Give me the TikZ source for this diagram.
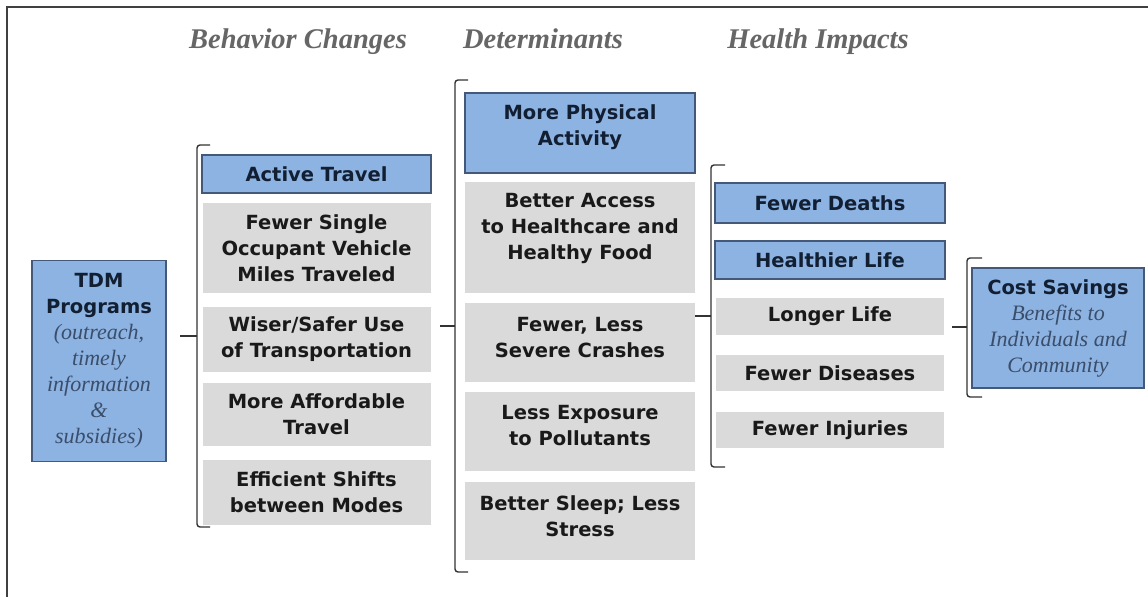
\documentclass[tikz,border=0pt]{standalone}
\usepackage{fontspec}
\newfontfamily\boxfont{DejaVu Sans}
\newfontfamily\serifit{Liberation Serif}
\definecolor{bluefill}{HTML}{8DB3E2}
\definecolor{blueline}{HTML}{44597A}
\definecolor{grayfill}{HTML}{DADADA}
\definecolor{bluetext}{HTML}{121F33}
\definecolor{italtext}{HTML}{3A4D6A}
\definecolor{headgray}{HTML}{666666}
\definecolor{framegray}{HTML}{404040}
\newcommand{\itx}[1]{{\normalfont\serifit\itshape\fontsize{22}{26}\selectfont\color{italtext}#1}}
\begin{document}
\begin{tikzpicture}[x=1pt,y=-1pt,
  bluebox/.style={draw=blueline,line width=1.3pt,fill=bluefill,inner sep=0pt,align=center,
    text=bluetext,font=\boxfont\bfseries\fontsize{19.5}{26}\selectfont},
  graybox/.style={fill=grayfill,inner sep=0pt,align=center,text=black!90,
    font=\boxfont\bfseries\fontsize{19.5}{26}\selectfont},
  txt/.style={inner sep=0pt,align=center,text=black!90,font=\boxfont\bfseries\fontsize{19.5}{26}\selectfont},
  header/.style={inner sep=0pt,anchor=base,text=headgray,font=\serifit\bfseries\itshape\fontsize{28.5}{30}\selectfont},
  brack/.style={draw=black!80,line width=1.4pt,rounded corners=3pt},
  frameline/.style={draw=framegray,line width=1.8pt}
]
\useasboundingbox (0,0) rectangle (1148,597);
\fill[white] (0,0) rectangle (1148,597);
\draw[frameline] (7,597) -- (7,7) -- (1148,7);

% headers
\node[header] (h1) at (298,48) {Behavior Changes};
\node[header] (h2) at (543,48) {Determinants};
\node[header] (h3) at (818,48) {Health Impacts};

% TDM box
\node[bluebox,minimum width=134pt,minimum height=201pt] (tdm) at (99,361)
  {TDM\\Programs\\\itx{(outreach,}\\\itx{timely}\\\itx{information}\\\itx{\&}\\\itx{subsidies)}};

% behavior changes
\node[bluebox,minimum width=229pt,minimum height=38pt] (b1) at (316.5,174) {Active Travel};
\node[graybox,minimum width=228pt,minimum height=90pt] (b2) at (316.5,248) {Fewer Single\\Occupant Vehicle\\Miles Traveled};
\node[graybox,minimum width=228pt,minimum height=65pt] (b3) at (316.5,339.5) {Wiser/Safer Use\\of Transportation};
\node[graybox,minimum width=228pt,minimum height=63pt] (b4) at (316.5,414.5) {More Affordable\\Travel};
\node[graybox,minimum width=228pt,minimum height=65pt] (b5) at (316.5,492.5) {Efficient Shifts\\between Modes};

% determinants
\node[bluebox,minimum width=230pt,minimum height=80pt] (d1) at (580,133) {};
\node[txt,text=bluetext] (d1t) at ([yshift=6pt]d1.center) {More Physical\\Activity};
\node[graybox,minimum width=230pt,minimum height=111pt] (d2) at (580,237.5) {};
\node[txt] (d2t) at ([yshift=9pt]d2.center) {Better Access\\to Healthcare and\\Healthy Food};
\node[graybox,minimum width=230pt,minimum height=79pt] (d3) at (580,342.5) {};
\node[txt] (d3t) at ([yshift=5pt]d3.center) {Fewer, Less\\Severe Crashes};
\node[graybox,minimum width=230pt,minimum height=79pt] (d4) at (580,431.5) {};
\node[txt] (d4t) at ([yshift=6pt]d4.center) {Less Exposure\\to Pollutants};
\node[graybox,minimum width=230pt,minimum height=78pt] (d5) at (580,521) {};
\node[txt] (d5t) at ([yshift=5pt]d5.center) {Better Sleep; Less\\Stress};

% health impacts
\node[bluebox,minimum width=230pt,minimum height=40pt] (e1) at (830,203) {Fewer Deaths};
\node[bluebox,minimum width=230pt,minimum height=38pt] (e2) at (830,260) {Healthier Life};
\node[graybox,minimum width=228pt,minimum height=37pt] (e3) at (830,316.5) {Longer Life};
\node[graybox,minimum width=228pt,minimum height=36pt] (e4) at (830,373) {Fewer Diseases};
\node[graybox,minimum width=228pt,minimum height=36pt] (e5) at (830,430) {Fewer Injuries};

% cost savings
\node[bluebox,minimum width=172pt,minimum height=120pt] (c1) at (1058,328)
  {Cost Savings\\\itx{Benefits to}\\\itx{Individuals and}\\\itx{Community}};

% brackets
\coordinate (k1) at (180,336);
\coordinate (k2) at (440,326);
\coordinate (k3) at (695,316);
\coordinate (k4) at (952,327);
\draw[brack] (210,145) -- (197,145) -- (197,527) -- (210,527);
\draw[brack] (k1) -- (197,336);
\draw[brack] (468,80) -- (455,80) -- (455,572) -- (468,572);
\draw[brack] (k2) -- (455,326);
\draw[brack] (725,165) -- (711,165) -- (711,467) -- (725,467);
\draw[brack] (k3) -- (711,316);
\draw[brack] (982,258) -- (967,258) -- (967,397) -- (982,397);
\draw[brack] (k4) -- (967,327);
\end{tikzpicture}
\end{document}
